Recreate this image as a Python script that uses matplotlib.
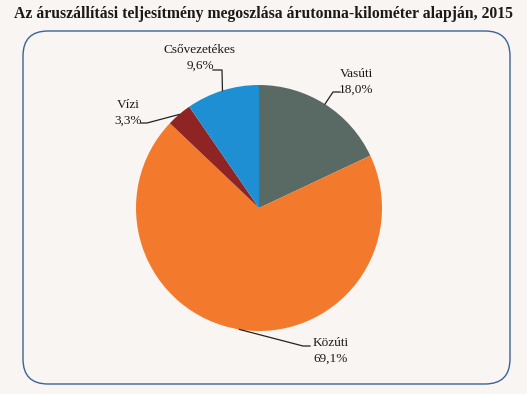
import matplotlib.pyplot as plt
from matplotlib.patches import FancyBboxPatch
import numpy as np

# data
categories = ['Vasúti', 'Közúti', 'Vízi', 'Csővezetékes']
shares = [18.0, 69.1, 3.3, 9.6]
labels = ['18,0%', '69,1%', '3,3%', '9,6%']
colors = ['#596964', '#F37A2C', '#8E2424', '#1F8FD3']

bg = '#F8F5F2'
W, H = 527, 394

fig = plt.figure(figsize=(W / 100, H / 100), dpi=100, facecolor=bg)
ax = fig.add_axes([0, 0, 1, 1])

# positions below are given in pixels from the top, flip them for y-up axes
def up(y):
    return H - y

# rounded frame
box = FancyBboxPatch((23, up(384)), 487, 353, boxstyle='round,pad=0,rounding_size=25',
                     fc='none', ec='#3A6397', lw=1.0)
ax.add_patch(box)

ax.text(263.5, up(14), 'Az áruszállítási teljesítmény megoszlása árutonna-kilométer alapján, 2015',
        ha='center', va='center', fontsize=11.3, fontweight='bold',
        family='Liberation Serif', color='#1a1a1a')

cx, cy, r = 259, up(208), 123
wedges, _ = ax.pie(shares, colors=colors, startangle=90, counterclock=False,
                   center=(cx, cy), radius=r, frame=True,
                   wedgeprops=dict(linewidth=0))
ax.set_xlim(0, W)
ax.set_ylim(0, H)
ax.axis('off')

# label positions (text centre, top line) and leader line elbow
lab_pos = {
    'Vasúti': (356, 74, [(333, 92), (340, 92)]),
    'Közúti': (331, 343, [(303, 346), (310, 346)]),
    'Vízi': (128, 105, [(147, 123), (141, 123)]),
    'Csővezetékes': (200, 50, [(222, 70), (213, 70)]),
}

theta = 90.0
for cat, val, lab in zip(categories, shares, labels):
    span = val * 3.6
    mid = np.deg2rad(theta - span / 2)
    theta -= span
    ex, ey = cx + r * np.cos(mid), cy + r * np.sin(mid)
    tx, ty, elbow = lab_pos[cat]
    xs = [ex] + [p[0] for p in elbow]
    ys = [ey] + [up(p[1]) for p in elbow]
    ax.plot(xs, ys, color='#222222', lw=0.9)
    ax.text(tx, up(ty), cat, ha='center', va='center', fontsize=9.5,
            family='Liberation Serif', color='#1a1a1a')
    ax.text(tx, up(ty + 16), lab, ha='center', va='center', fontsize=9.5,
            family='Liberation Serif', color='#1a1a1a')

fig.savefig('out.png', dpi=100, facecolor=bg)
